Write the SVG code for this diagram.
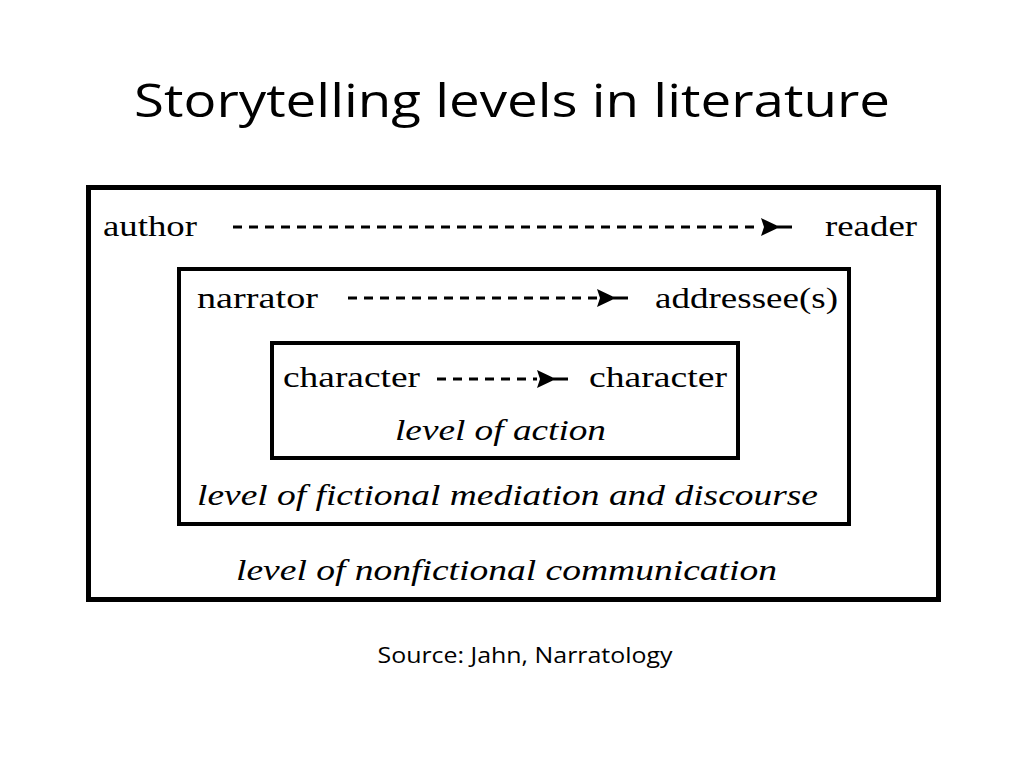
<svg xmlns="http://www.w3.org/2000/svg" width="1024" height="768" viewBox="0 0 1024 768">
<style>
.box{fill:none;stroke:#000}
.lbl{font-family:"Liberation Serif",serif;font-size:29px;fill:#000}
.lvl{font-family:"Liberation Serif",serif;font-size:29px;font-style:italic;fill:#000}
.conn{stroke:#000;stroke-width:3;stroke-dasharray:9 7;fill:none}
.title{font-family:"Open Sans","Noto Sans",sans-serif;fill:#000}
</style>
<defs>
<marker id="ah" markerWidth="34" markerHeight="22" refX="2" refY="11" markerUnits="userSpaceOnUse" orient="auto">
<path d="M2,2 L21,11 L2,20 L5,11 Z M18,9.5 H33 V12.5 H18 Z" fill="#000"/>
</marker>
</defs>
<rect width="1024" height="768" fill="#fff"/>
<text class="title" x="512" y="117" font-size="46" text-anchor="middle" textLength="756" lengthAdjust="spacingAndGlyphs">Storytelling levels in literature</text>

<g id="level-nonfictional">
<rect class="box" x="88.5" y="187.5" width="850" height="412" stroke-width="5"/>
<text class="lvl" x="236" y="580" textLength="541" lengthAdjust="spacingAndGlyphs">level of nonfictional communication</text>
</g>
<g id="level-fictional">
<rect class="box" x="179" y="269" width="670" height="255" stroke-width="4"/>
<text class="lvl" x="197" y="505" textLength="621" lengthAdjust="spacingAndGlyphs">level of fictional mediation and discourse</text>
</g>
<g id="level-action">
<rect class="box" x="272" y="343" width="466" height="115" stroke-width="4"/>
<text class="lvl" x="395" y="440" textLength="211" lengthAdjust="spacingAndGlyphs">level of action</text>
</g>

<g id="author"><text class="lbl" x="103" y="236" textLength="94" lengthAdjust="spacingAndGlyphs">author</text></g>
<g id="reader"><text class="lbl" x="825" y="236" textLength="92" lengthAdjust="spacingAndGlyphs">reader</text></g>
<g id="narrator"><text class="lbl" x="197" y="308" textLength="121" lengthAdjust="spacingAndGlyphs">narrator</text></g>
<g id="addressee"><text class="lbl" x="655" y="308" textLength="183" lengthAdjust="spacingAndGlyphs">addressee(s)</text></g>
<g id="character-1"><text class="lbl" x="283" y="387" textLength="137" lengthAdjust="spacingAndGlyphs">character</text></g>
<g id="character-2"><text class="lbl" x="589" y="387" textLength="138" lengthAdjust="spacingAndGlyphs">character</text></g>

<g id="connectors">
<path class="conn" d="M233,227 H761" marker-end="url(#ah)"/>
<path class="conn" d="M348,298 H597" marker-end="url(#ah)"/>
<path class="conn" d="M437,379 H537" marker-end="url(#ah)"/>
</g>

<text class="title" x="525" y="663" font-size="22" text-anchor="middle" textLength="295" lengthAdjust="spacingAndGlyphs">Source: Jahn, Narratology</text>
</svg>
